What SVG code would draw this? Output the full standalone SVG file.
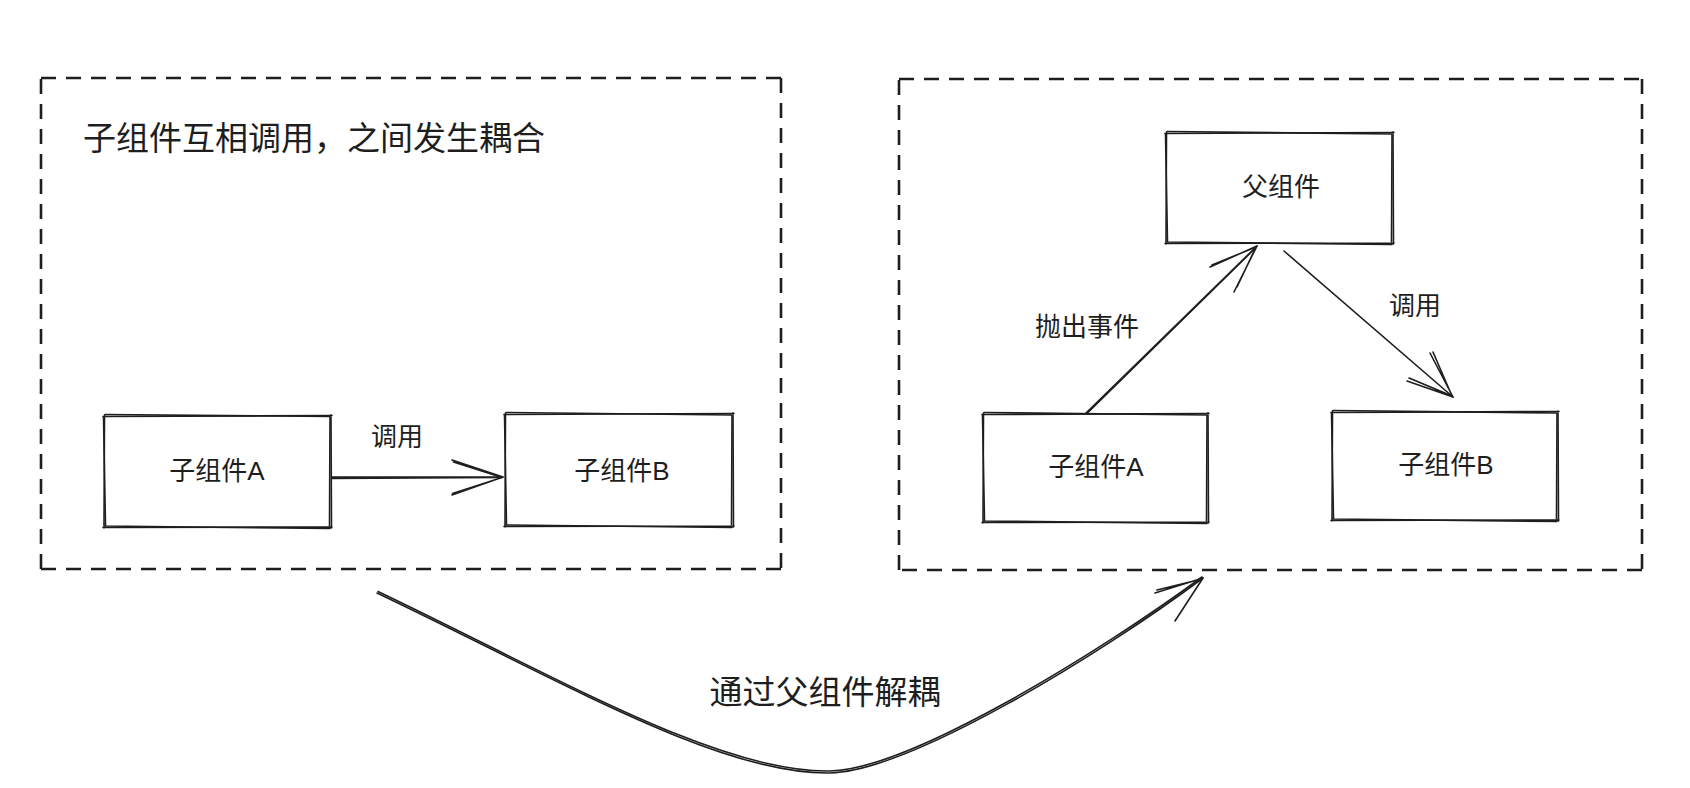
<svg xmlns="http://www.w3.org/2000/svg" width="1690" height="788" viewBox="0 0 1690 788">
<style>
.sk{fill:none;stroke:#1e1e1e;stroke-width:1.6;stroke-linecap:round;stroke-linejoin:round}
.dash{fill:none;stroke:#1e1e1e;stroke-width:2.6;stroke-dasharray:15 10;stroke-linecap:butt}
.t{font-family:"Liberation Sans","Noto Sans CJK SC",sans-serif;fill:#1e1e1e;text-anchor:middle}
.big{font-size:33px}
.sm{font-size:26px}
</style>
<rect width="1690" height="788" fill="#ffffff"/>
<g id="frame-left">
<path class="dash" d="M41,78 L781,78 M781,78 L781,569 M781,569 L41,569 M41,569 L41,78"/>
<text class="t big" x="314" y="150">子组件互相调用，之间发生耦合</text>
</g>
<g id="frame-right">
<path class="dash" d="M899,79 L1642,79 M1642,79 L1642,570 M1642,570 L899,570 M899,570 L899,79"/>
</g>
<g id="left-a">
<path class="sk" d="M103,416.5 L332,415.5 M331,415 L331.5,528 M332,527 L103,527.5 M104,528 L104.5,415"/>
<path class="sk" d="M105,414.5 L330,416.5 M330,417 L329.5,526 M330,528.5 L105,526 M105.5,526 L103.5,417"/>
<text class="t sm" x="217" y="480">子组件A</text>
</g>
<g id="left-b">
<path class="sk" d="M504,414.5 L734,413.5 M733,413 L733.5,527 M734,526 L504,526.5 M505,527 L505.5,413"/>
<path class="sk" d="M506,412.5 L732,415 M732,415 L731.5,525 M732,527.5 L506,525 M506.5,525 L504.5,415"/>
<text class="t sm" x="622" y="480">子组件B</text>
</g>
<g id="parent">
<path class="sk" d="M1165,133.5 L1394,132.5 M1393,132 L1393.5,244 M1394,243 L1165,243.5 M1166,244 L1166.5,132"/>
<path class="sk" d="M1167,131.5 L1392,134 M1392,134 L1391.5,242 M1392,244.5 L1167,242 M1167.5,242 L1165.5,134"/>
<text class="t sm" x="1281" y="196">父组件</text>
</g>
<g id="right-a">
<path class="sk" d="M982,414.5 L1209,413.5 M1208,413 L1208.5,523 M1209,522 L982,522.5 M983,523 L983.5,413"/>
<path class="sk" d="M984,412.5 L1207,415 M1207,415 L1206.5,521 M1207,523.5 L984,521 M984.5,521 L982.5,415"/>
<text class="t sm" x="1096" y="476">子组件A</text>
</g>
<g id="right-b">
<path class="sk" d="M1331,412.5 L1559,411.5 M1558,411 L1558.5,521 M1559,520 L1331,520.5 M1332,521 L1332.5,411"/>
<path class="sk" d="M1333,410.5 L1557,413 M1557,413 L1556.5,519 M1557,521.5 L1333,519 M1333.5,519 L1331.5,413"/>
<text class="t sm" x="1446" y="474">子组件B</text>
</g>
<g id="connectors">
<g id="edge-left-call">
<path class="sk" d="M332,477 L503,477 M332,478.5 L502,477.5"/>
<path class="sk" d="M452,460 L503,477 L452,495 M453.5,462 L502,477.5 L452.5,493.5"/>
<text class="t sm" x="397" y="446">调用</text>
</g>
<g id="edge-emit">
<path class="sk" d="M1086,413 L1257,246 M1088,412.5 L1256,247.5"/>
<path class="sk" d="M1210,267 L1257,246 L1234,292 M1212,265 L1256,247 L1237,287"/>
<text class="t sm" x="1087" y="336">抛出事件</text>
</g>
<g id="edge-right-call">
<path class="sk" d="M1284,251 L1453,397"/>
<path class="sk" d="M1407,381 L1453,397 L1430,353 M1409,378 L1452,396 L1433,352"/>
<text class="t sm" x="1415" y="315">调用</text>
</g>
<g id="edge-decouple">
<path class="sk" d="M377,593 C560,680 720,775 830,773 C910,771 1100,655 1203,578"/>
<path class="sk" d="M378,591.5 C561,679 720,773 830,771 C909,769.5 1099,653 1202,577"/>
<path class="sk" d="M1155,593 L1203,578 L1175,621 M1157,590 L1202,579"/>
<text class="t big" x="825" y="704">通过父组件解耦</text>
</g>
</g>
</svg>
